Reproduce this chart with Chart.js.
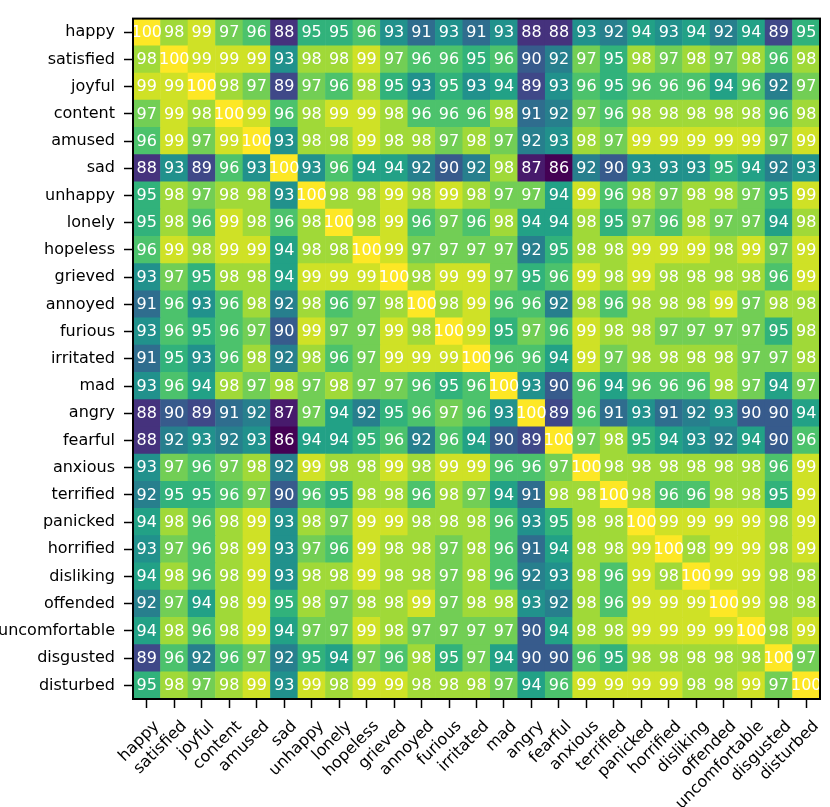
<!DOCTYPE html>
<html lang="en">
<head>
    <meta charset="UTF-8">
    <title>Emotion similarity heatmap</title>
    <script src="https://cdn.jsdelivr.net/npm/chart.js"></script>
    <style>
        body { margin: 0; background: #fff; }
    </style>
</head>
<body>
    <canvas id="heatmap" width="830" height="807"></canvas>

    <script>
        // Row / column labels (same order on both axes)
        const labels = [
            "happy", "satisfied", "joyful", "content", "amused", "sad", "unhappy",
            "lonely", "hopeless", "grieved", "annoyed", "furious", "irritated", "mad",
            "angry", "fearful", "anxious", "terrified", "panicked", "horrified",
            "disliking", "offended", "uncomfortable", "disgusted", "disturbed"
        ];

        // Similarity scores, one row per label
        const scores = [
            [100, 98, 99, 97, 96, 88, 95, 95, 96, 93, 91, 93, 91, 93, 88, 88, 93, 92, 94, 93, 94, 92, 94, 89, 95],
            [98, 100, 99, 99, 99, 93, 98, 98, 99, 97, 96, 96, 95, 96, 90, 92, 97, 95, 98, 97, 98, 97, 98, 96, 98],
            [99, 99, 100, 98, 97, 89, 97, 96, 98, 95, 93, 95, 93, 94, 89, 93, 96, 95, 96, 96, 96, 94, 96, 92, 97],
            [97, 99, 98, 100, 99, 96, 98, 99, 99, 98, 96, 96, 96, 98, 91, 92, 97, 96, 98, 98, 98, 98, 98, 96, 98],
            [96, 99, 97, 99, 100, 93, 98, 98, 99, 98, 98, 97, 98, 97, 92, 93, 98, 97, 99, 99, 99, 99, 99, 97, 99],
            [88, 93, 89, 96, 93, 100, 93, 96, 94, 94, 92, 90, 92, 98, 87, 86, 92, 90, 93, 93, 93, 95, 94, 92, 93],
            [95, 98, 97, 98, 98, 93, 100, 98, 98, 99, 98, 99, 98, 97, 97, 94, 99, 96, 98, 97, 98, 98, 97, 95, 99],
            [95, 98, 96, 99, 98, 96, 98, 100, 98, 99, 96, 97, 96, 98, 94, 94, 98, 95, 97, 96, 98, 97, 97, 94, 98],
            [96, 99, 98, 99, 99, 94, 98, 98, 100, 99, 97, 97, 97, 97, 92, 95, 98, 98, 99, 99, 99, 98, 99, 97, 99],
            [93, 97, 95, 98, 98, 94, 99, 99, 99, 100, 98, 99, 99, 97, 95, 96, 99, 98, 99, 98, 98, 98, 98, 96, 99],
            [91, 96, 93, 96, 98, 92, 98, 96, 97, 98, 100, 98, 99, 96, 96, 92, 98, 96, 98, 98, 98, 99, 97, 98, 98],
            [93, 96, 95, 96, 97, 90, 99, 97, 97, 99, 98, 100, 99, 95, 97, 96, 99, 98, 98, 97, 97, 97, 97, 95, 98],
            [91, 95, 93, 96, 98, 92, 98, 96, 97, 99, 99, 99, 100, 96, 96, 94, 99, 97, 98, 98, 98, 98, 97, 97, 98],
            [93, 96, 94, 98, 97, 98, 97, 98, 97, 97, 96, 95, 96, 100, 93, 90, 96, 94, 96, 96, 96, 98, 97, 94, 97],
            [88, 90, 89, 91, 92, 87, 97, 94, 92, 95, 96, 97, 96, 93, 100, 89, 96, 91, 93, 91, 92, 93, 90, 90, 94],
            [88, 92, 93, 92, 93, 86, 94, 94, 95, 96, 92, 96, 94, 90, 89, 100, 97, 98, 95, 94, 93, 92, 94, 90, 96],
            [93, 97, 96, 97, 98, 92, 99, 98, 98, 99, 98, 99, 99, 96, 96, 97, 100, 98, 98, 98, 98, 98, 98, 96, 99],
            [92, 95, 95, 96, 97, 90, 96, 95, 98, 98, 96, 98, 97, 94, 91, 98, 98, 100, 98, 96, 96, 98, 98, 95, 99],
            [94, 98, 96, 98, 99, 93, 98, 97, 99, 99, 98, 98, 98, 96, 93, 95, 98, 98, 100, 99, 99, 99, 99, 98, 99],
            [93, 97, 96, 98, 99, 93, 97, 96, 99, 98, 98, 97, 98, 96, 91, 94, 98, 98, 99, 100, 98, 99, 99, 98, 99],
            [94, 98, 96, 98, 99, 93, 98, 98, 99, 98, 98, 97, 98, 96, 92, 93, 98, 96, 99, 98, 100, 99, 99, 98, 98],
            [92, 97, 94, 98, 99, 95, 98, 97, 98, 98, 99, 97, 98, 98, 93, 92, 98, 96, 99, 99, 99, 100, 99, 98, 98],
            [94, 98, 96, 98, 99, 94, 97, 97, 99, 98, 97, 97, 97, 97, 90, 94, 98, 98, 99, 99, 99, 99, 100, 98, 99],
            [89, 96, 92, 96, 97, 92, 95, 94, 97, 96, 98, 95, 97, 94, 90, 90, 96, 95, 98, 98, 98, 98, 98, 100, 97],
            [95, 98, 97, 98, 99, 93, 99, 98, 99, 99, 98, 98, 98, 97, 94, 96, 99, 99, 99, 99, 98, 98, 99, 97, 100]
        ];

        // colour range of the map
        const colorMin = 86;
        const colorMax = 100;

        // viridis sampled at 0, 0.1, ..., 1
        const viridisStops = [
            [68, 1, 84], [72, 36, 117], [65, 68, 135], [53, 95, 141], [42, 120, 142],
            [33, 145, 140], [34, 168, 132], [68, 191, 112], [122, 209, 81], [189, 223, 38],
            [253, 231, 37]
        ];

        function viridis(v) {
            let t = (v - colorMin) / (colorMax - colorMin);
            t = Math.max(0, Math.min(1, t));
            const pos = t * (viridisStops.length - 1);
            const i = Math.min(Math.floor(pos), viridisStops.length - 2);
            const f = pos - i;
            const a = viridisStops[i], b = viridisStops[i + 1];
            const c = a.map((ch, k) => Math.round(ch + (b[k] - ch) * f));
            return `rgb(${c[0]}, ${c[1]}, ${c[2]})`;
        }

        // one point per cell
        const cells = [];
        scores.forEach((row, i) => {
            row.forEach((v, j) => {
                cells.push({ x: labels[j], y: labels[i], v: v });
            });
        });

        const fontFamily = "'DejaVu Sans', sans-serif";
        const fontSize = 16;

        // cell numbers + frame round the map
        const cellTextPlugin = {
            id: 'cellText',
            afterDatasetsDraw(chart) {
                const ctx = chart.ctx;
                const meta = chart.getDatasetMeta(0);
                ctx.save();
                ctx.fillStyle = '#ffffff';
                ctx.font = fontSize + 'px ' + fontFamily;
                ctx.textAlign = 'center';
                ctx.textBaseline = 'middle';
                meta.data.forEach((pt, k) => {
                    ctx.fillText(String(cells[k].v), pt.x, pt.y + 0.5);
                });
                const a = chart.chartArea;
                ctx.strokeStyle = '#000';
                ctx.lineWidth = 2;
                ctx.strokeRect(a.left, a.top, a.right - a.left, a.bottom - a.top);
                ctx.restore();
            }
        };

        function cellRadius(context) {
            const a = context.chart.chartArea;
            if (!a) return 10;
            const side = (a.right - a.left) / labels.length;
            return side / Math.SQRT2 + 0.35;
        }

        const ctx = document.getElementById('heatmap').getContext('2d');

        new Chart(ctx, {
            type: 'scatter',
            data: {
                datasets: [{
                    data: cells,
                    pointStyle: 'rect',
                    radius: cellRadius,
                    hoverRadius: cellRadius,
                    borderWidth: 0,
                    backgroundColor: (c) => c.raw ? viridis(c.raw.v) : '#000'
                }]
            },
            options: {
                responsive: false,
                animation: false,
                events: [],
                layout: { padding: { top: 3, right: 2, left: 0, bottom: 0 } },
                plugins: {
                    legend: { display: false },
                    tooltip: { enabled: false }
                },
                scales: {
                    x: {
                        type: 'category',
                        labels: labels,
                        offset: true,
                        position: 'bottom',
                        grid: {
                            offset: false,
                            drawOnChartArea: false,
                            drawTicks: true,
                            tickLength: 9,
                            tickWidth: 1.5,
                            tickColor: '#000'
                        },
                        border: { display: true, color: '#000', width: 2 },
                        ticks: {
                            autoSkip: false,
                            minRotation: 45,
                            maxRotation: 45,
                            padding: 9,
                            labelOffset: 10,
                            color: '#000',
                            font: { family: fontFamily, size: fontSize }
                        },
                        afterFit(scale) { scale.height = 108; }
                    },
                    y: {
                        type: 'category',
                        labels: labels,
                        offset: true,
                        grid: {
                            offset: false,
                            drawOnChartArea: false,
                            drawTicks: true,
                            tickLength: 9,
                            tickWidth: 1.5,
                            tickColor: '#000'
                        },
                        border: { display: true, color: '#000', width: 2 },
                        ticks: {
                            autoSkip: false,
                            padding: 9,
                            color: '#000',
                            font: { family: fontFamily, size: fontSize }
                        },
                        afterFit(scale) { scale.width = 133; }
                    }
                }
            },
            plugins: [cellTextPlugin]
        });
    </script>
</body>
</html>
